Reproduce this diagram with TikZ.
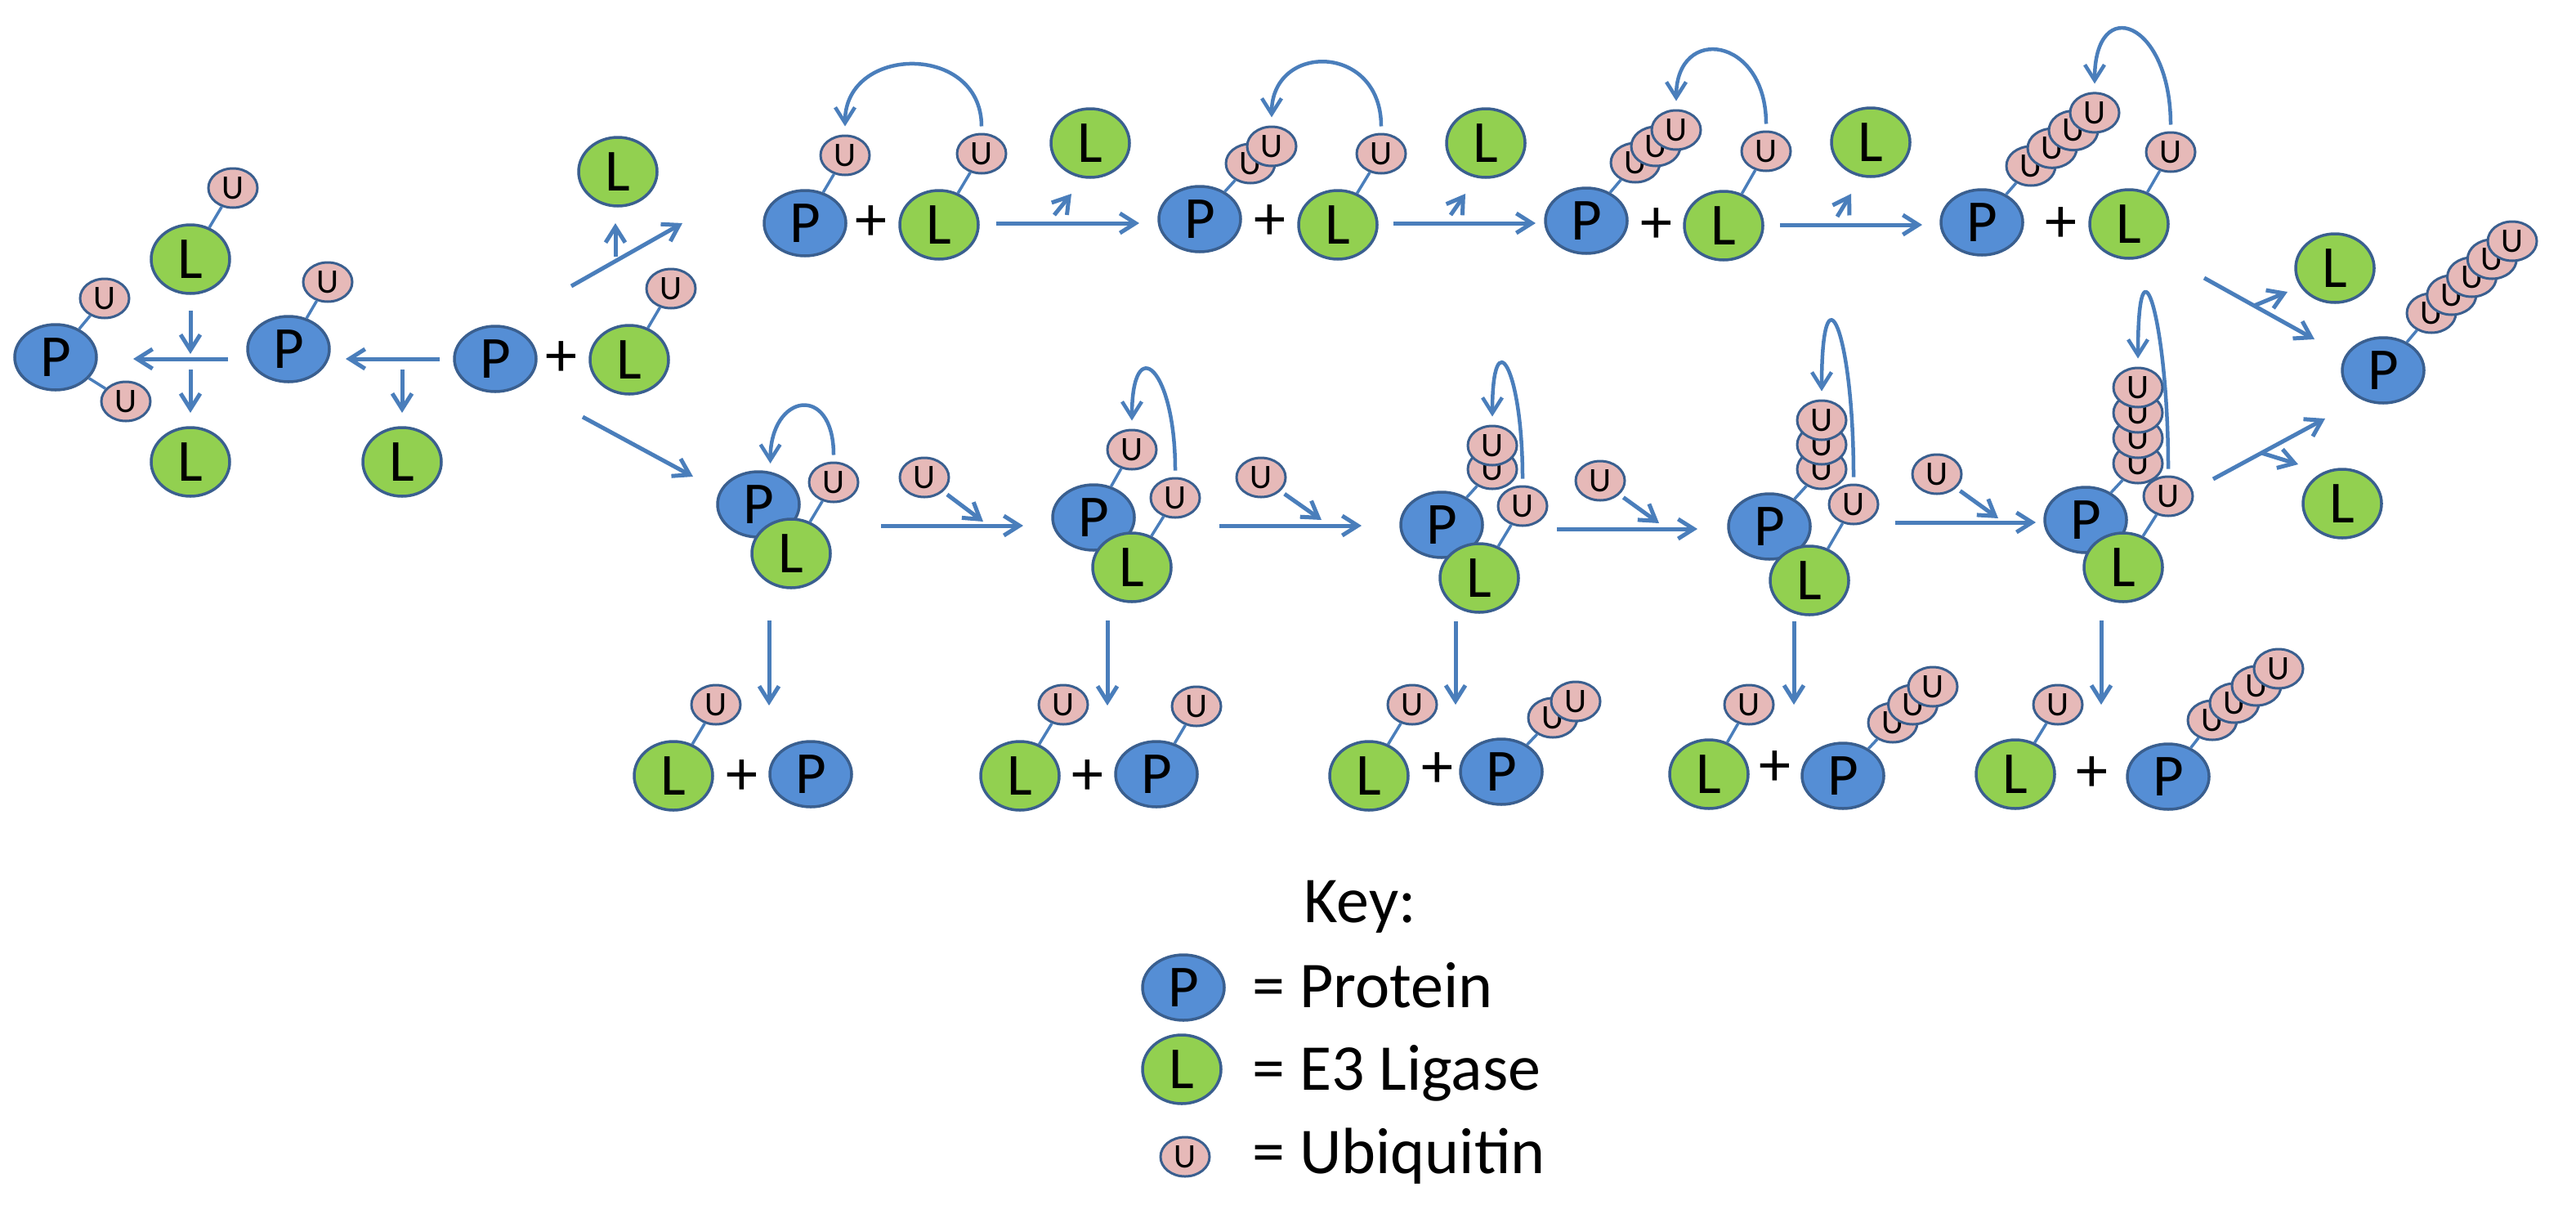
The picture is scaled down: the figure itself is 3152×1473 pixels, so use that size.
\documentclass[tikz,border=0pt]{standalone}
\usepackage{fontspec}
\setmainfont{Carlito}
\usetikzlibrary{arrows.meta,shapes.geometric}
\definecolor{protblue}{HTML}{558ED5}
\definecolor{ligreen}{HTML}{92D050}
\definecolor{ubpink}{HTML}{E6B9B8}
\definecolor{rimblue}{HTML}{3A5F8F}
\definecolor{pilblue}{HTML}{4A7EBB}
\tikzset{
    %Define standard arrow tip
    >={Straight Barb[length=19pt,width=24pt]},
    %Define styles for the molecules
    prot/.style={
           ellipse,
           draw=rimblue, line width=3.5pt,
           fill=protblue,
           minimum width=100pt,
           minimum height=80pt,
           inner sep=0pt,
           font=\fontsize{73}{73}\selectfont},
    lig/.style={
           prot,
           fill=ligreen,
           minimum width=96pt,
           minimum height=84pt},
    ubq/.style={
           ellipse,
           draw=rimblue, line width=3pt,
           fill=ubpink,
           minimum width=60pt,
           minimum height=48pt,
           inner sep=0pt,
           font=\fontsize{42}{42}\selectfont},
    plus/.style={
           inner sep=0pt,
           font=\fontsize{78}{78}\selectfont},
    keytxt/.style={
           inner sep=0pt,
           anchor=base west,
           font=\fontsize{80}{80}\selectfont},
    % Define arrow styles
    pil/.style={
           ->,
           draw=pilblue,
           line width=5pt},
    loopy/.style={
           pil,
           line width=4.5pt,
           shorten <=8pt,
           shorten >=10pt},
    stick/.style={
           draw=pilblue,
           line width=3.5pt}
}
\begin{document}
\begin{tikzpicture}[x=1pt,y=-1pt]
\useasboundingbox (0,0) rectangle (3152,1473);
         %arrow ends
          \foreach \n/\x/\y in {a1s/538/439, a1e/423/439, a1d/492/452, a1f/492/505,
              a2s/279/439, a2e/163/439, a2a/233/380, a2b/233/433, a2c/233/452, a2d/233/505,
              a3s/699/350, a3e/835/273, a3u/753/314, a3v/753/273, a4s/713/510, a4e/848/583,
              t1s/1219/273, t1e/1394/273, t1u/1290/263, t1v/1311/237,
              t2s/1705/273, t2e/1879/273, t2u/1775/263, t2v/1793/237,
              t3s/2178/275, t3e/2352/275, t3u/2248/265, t3v/2265/237,
              t4s/2697/340, t4e/2832/415, t4u/2758/374, t4v/2799/357,
              b1s/1078/643, b1e/1252/643, b1v/1203/638,
              b2s/1492/643, b2e/1666/643, b2v/1617/636,
              b3s/1905/647, b3e/2077/647, b3v/2030/640,
              b4s/2319/639, b4e/2491/639, b4v/2445/634,
              b5s/2708/586, b5e/2845/512, b5u/2767/554, b5v/2812/568,
              d1s/941/759, d1e/941/863, d2s/1355/759, d2e/1355/863,
              d3s/1781/760, d3e/1781/862, d4s/2195/760, d4e/2195/862,
              d5s/2571/759, d5e/2571/862}
              \coordinate (\n) at (\x,\y);
         %left part
          \node[prot] (p1) at (68,437) {P};
          \node[ubq] (u1a) at (128,365) {U};
          \node[ubq] (u1b) at (154,491) {U};
          \node[lig] (l1) at (233,317) {L};
          \node[ubq] (u1c) at (285,230) {U};
          \node[lig] (l2) at (233,565) {L};
          \node[prot] (p2) at (353,427) {P};
          \node[ubq] (u2) at (401,345) {U};
          \node[lig] (l3) at (492,565) {L};
          \node[prot] (p3) at (606,439) {P};
          \node[plus] (s3) at (687,439) {+};
          \node[lig] (l4) at (770,440) {L};
          \node[ubq] (u4) at (821,353) {U};
          \node[lig] (l5) at (756,210) {L};
          \draw[stick] (p1) -- (u1a);
          \draw[stick] (p1) -- (u1b);
          \draw[stick] (l1) -- (u1c);
          \draw[stick] (p2) -- (u2);
          \draw[stick] (l4) -- (u4);
         %top row
          \node[prot] (pa) at (985,273) {P};
          \node[plus] (sa) at (1066,273) {+};
          \node[lig] (la) at (1149,275) {L};
          \node[ubq] (ua) at (1034,190) {U};
          \node[ubq] (ula) at (1201,188) {U};
          \node[lig] (lfa) at (1334,175) {L};
          \node[prot] (pb) at (1468,268) {P};
          \node[plus] (sb) at (1554,272) {+};
          \node[lig] (lb) at (1637,275) {L};
          \foreach \k in {1,2}
              \node[ubq] (ub\k) at ({1530+26*(\k-1)},{200-21*(\k-1)}) {U};
          \node[ubq] (ulb) at (1690,188) {U};
          \node[lig] (lfb) at (1818,175) {L};
          \node[prot] (pc) at (1941,270) {P};
          \node[plus] (sc) at (2027,276) {+};
          \node[lig] (lc) at (2109,276) {L};
          \foreach \k in {1,2,3}
              \node[ubq] (uc\k) at ({2001+25*(\k-1)},{199-20*(\k-1)}) {U};
          \node[ubq] (ulc) at (2161,185) {U};
          \node[lig] (lfc) at (2289,174) {L};
          \node[prot] (pd) at (2425,272) {P};
          \node[plus] (sd) at (2522,275) {+};
          \node[lig] (ld) at (2605,274) {L};
          \foreach \k in {1,...,4}
              \node[ubq] (ud\k) at ({2485+26*(\k-1)},{203-21.7*(\k-1)}) {U};
          \node[ubq] (uld) at (2656,186) {U};
          \draw[stick] (pa) -- (ua);
          \draw[stick] (la) -- (ula);
          \draw[stick] (pb) -- (ub1);
          \draw[stick] (lb) -- (ulb);
          \draw[stick] (pc) -- (uc1);
          \draw[stick] (lc) -- (ulc);
          \draw[stick] (pd) -- (ud1);
          \draw[stick] (ld) -- (uld);
         %right part
          \node[lig] (lr1) at (2857,328) {L};
          \node[lig] (lr2) at (2866,616) {L};
          \node[prot] (pz) at (2916,453) {P};
          \foreach \k in {1,...,5}
              \node[ubq] (uz\k) at ({2975+24.75*(\k-1)},{383-22*(\k-1)}) {U};
          \draw[stick] (pz) -- (uz1);
         %bottom row complexes
          \node[prot] (pe) at (928,617) {P};
          \node[lig] (le) at (968,677) {L};
          \node[ubq] (ule) at (1020,590) {U};
          \node[ubq] (fu1) at (1131,584) {U};
          \node[prot] (pf) at (1338,633) {P};
          \node[lig] (lf) at (1385,694) {L};
          \node[ubq] (uf) at (1385,550) {U};
          \node[ubq] (ulf) at (1438,609) {U};
          \node[ubq] (fu2) at (1543,584) {U};
          \node[prot] (pg) at (1764,642) {P};
          \node[lig] (lg) at (1810,707) {L};
          \foreach \k in {1,2}
              \node[ubq] (ug\k) at (1826,{574-29*(\k-1)}) {U};
          \node[ubq] (ulg) at (1863,619) {U};
          \node[ubq] (fu3) at (1958,588) {U};
          \node[prot] (ph) at (2165,644) {P};
          \node[lig] (lh) at (2214,710) {L};
          \foreach \k in {1,2,3}
              \node[ubq] (uh\k) at (2229,{574-30*(\k-1)}) {U};
          \node[ubq] (ulh) at (2268,617) {U};
          \node[ubq] (fu4) at (2370,580) {U};
          \node[prot] (pi) at (2552,636) {P};
          \node[lig] (li) at (2598,694) {L};
          \foreach \k in {1,...,4}
              \node[ubq] (ui\k) at (2616,{567-31*(\k-1)}) {U};
          \node[ubq] (uli) at (2653,607) {U};
          \draw[stick] (le) -- (ule);
          \draw[stick] (pf) -- (uf);
          \draw[stick] (lf) -- (ulf);
          \draw[stick] (pg) -- (ug1);
          \draw[stick] (lg) -- (ulg);
          \draw[stick] (ph) -- (uh1);
          \draw[stick] (lh) -- (ulh);
          \draw[stick] (pi) -- (ui1);
          \draw[stick] (li) -- (uli);
         %products
          \node[lig] (lq1) at (824,949) {L};
          \node[ubq] (uq1) at (876,862) {U};
          \node[plus] (sq1) at (908,951) {+};
          \node[prot] (pq1) at (992,947) {P};
          \node[lig] (lq2) at (1248,949) {L};
          \node[ubq] (uq2) at (1301,862) {U};
          \node[plus] (sq2) at (1331,951) {+};
          \node[prot] (pq2) at (1415,947) {P};
          \node[ubq] (vq2) at (1464,864) {U};
          \node[lig] (lq3) at (1675,949) {L};
          \node[ubq] (uq3) at (1728,862) {U};
          \node[plus] (sq3) at (1759,942) {+};
          \node[prot] (pq3) at (1837,944) {P};
          \foreach \k in {1,2}
              \node[ubq] (vq3\k) at ({1900+28*(\k-1)},{878-20*(\k-1)}) {U};
          \node[lig] (lq4) at (2091,947) {L};
          \node[ubq] (uq4) at (2140,862) {U};
          \node[plus] (sq4) at (2172,940) {+};
          \node[prot] (pq4) at (2255,949) {P};
          \foreach \k in {1,2,3}
              \node[ubq] (vq4\k) at ({2316+24.5*(\k-1)},{884-22*(\k-1)}) {U};
          \node[lig] (lq5) at (2466,947) {L};
          \node[ubq] (uq5) at (2518,862) {U};
          \node[plus] (sq5) at (2560,947) {+};
          \node[prot] (pq5) at (2653,950) {P};
          \foreach \k in {1,...,4}
              \node[ubq] (vq5\k) at ({2707+27*(\k-1)},{881-21*(\k-1)}) {U};
          \draw[stick] (lq1) -- (uq1);
          \draw[stick] (lq2) -- (uq2);
          \draw[stick] (pq2) -- (vq2);
          \draw[stick] (lq3) -- (uq3);
          \draw[stick] (pq3) -- (vq31);
          \draw[stick] (lq4) -- (uq4);
          \draw[stick] (pq4) -- (vq41);
          \draw[stick] (lq5) -- (uq5);
          \draw[stick] (pq5) -- (vq51);
         %straight arrows
          \foreach \s/\e in {a1s/a1e, a1d/a1f, a2s/a2e, a2a/a2b, a2c/a2d, a3s/a3e, a3u/a3v,
              a4s/a4e, t1s/t1e, t1u/t1v, t2s/t2e, t2u/t2v, t3s/t3e, t3u/t3v, t4s/t4e, t4u/t4v,
              b1s/b1e, b2s/b2e, b3s/b3e, b4s/b4e, b5s/b5e, b5u/b5v,
              d1s/d1e, d2s/d2e, d3s/d3e, d4s/d4e, d5s/d5e}
              \draw[pil] (\s) -- (\e);
          \draw[pil, shorten <=6pt] (fu1) -- (b1v);
          \draw[pil, shorten <=6pt] (fu2) -- (b2v);
          \draw[pil, shorten <=6pt] (fu3) -- (b3v);
          \draw[pil, shorten <=6pt] (fu4) -- (b4v);
         %transfer loops
          \draw[loopy] (ula.north) .. controls +(0,-110) and +(0,-110) .. (ua.north);
          \draw[loopy] (ulb.north) .. controls +(0,-110) and +(0,-102) .. (ub2.north);
          \draw[loopy] (ulc.north) .. controls +(0,-115) and +(0,-104) .. (uc3.north);
          \draw[loopy] (uld.north) .. controls +(0,-135) and +(0,-121) .. (ud4.north);
          \draw[loopy] (ule.north) .. controls +(0,-96) and +(0,-96) .. (pe.70);
          \draw[loopy] (ulf.north) .. controls +(0,-135) and +(0,-120) .. (uf.north);
          \draw[loopy] (ulg.north) .. controls +(0,-145) and +(0,-130) .. (ug2.north);
          \draw[loopy] (ulh.north) .. controls +(0,-190) and +(0,-171) .. (uh3.north);
          \draw[loopy] (uli.north) .. controls +(0,-190) and +(0,-177) .. (ui4.north);
         %key
          \node[keytxt, anchor=base] (key) at (1664,1128) {Key:};
          \node[prot] (kp) at (1448,1208) {P};
          \node[keytxt] (kpt) at (1532,1232) {= Protein};
          \node[lig] (kl) at (1446,1308) {L};
          \node[keytxt] (klt) at (1532,1333) {= E3 Ligase};
          \node[ubq] (ku) at (1450,1415) {U};
          \node[keytxt] (kut) at (1532,1435) {= Ubiquitin};
\end{tikzpicture}
\end{document}
